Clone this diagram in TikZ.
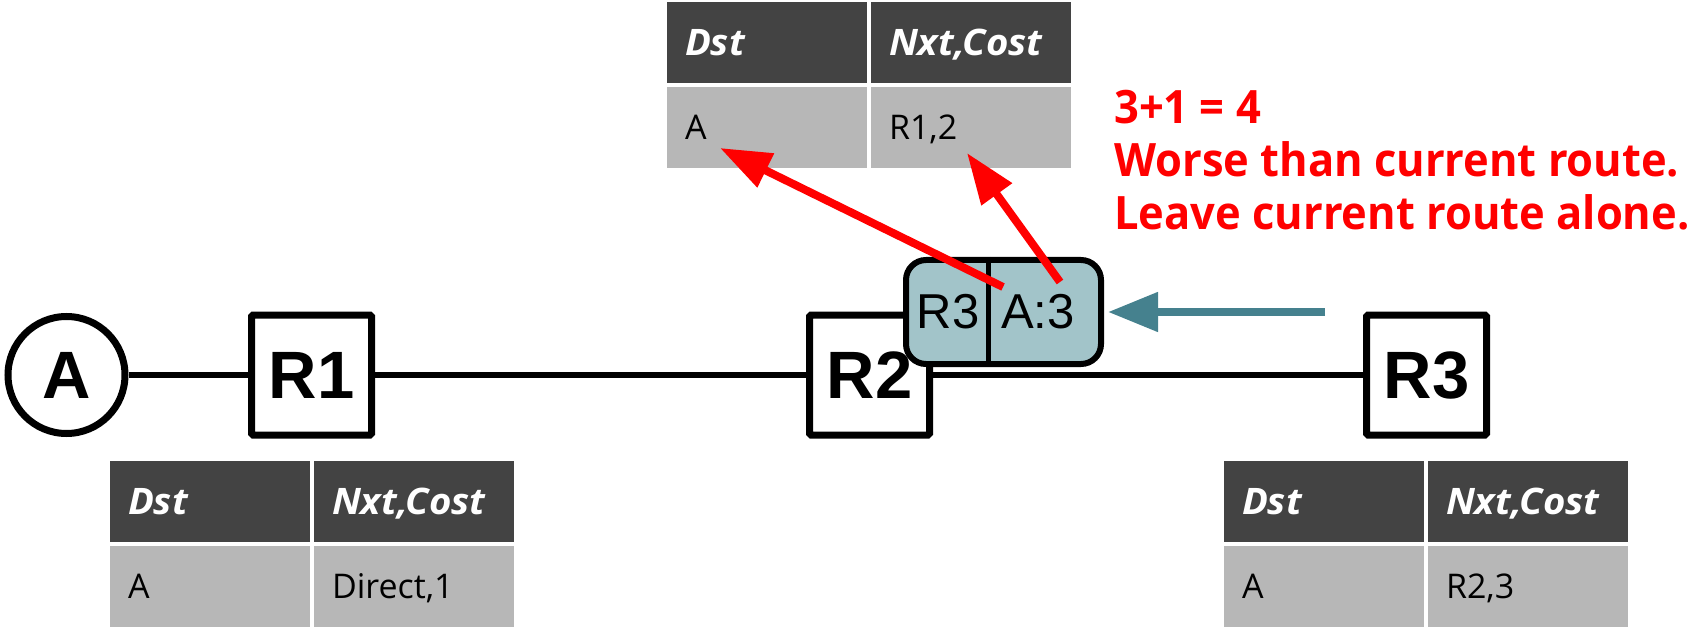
\documentclass[tikz,border=0pt]{standalone}
\usepackage{fontspec}
\setmainfont{Open Sans}
\newfontfamily\lsans{Liberation Sans}
\newfontfamily\hdrfont{Open Sans}[FakeStretch=1.05]
\newfontfamily\notefont{Open Sans}[FakeStretch=0.945]
\usetikzlibrary{arrows.meta}
\definecolor{hdrgray}{HTML}{434343}
\definecolor{bodygray}{HTML}{B7B7B7}
\definecolor{pktfill}{HTML}{A2C4C9}
\definecolor{pktarrow}{HTML}{45818E}
\definecolor{redc}{HTML}{FF0000}
\tikzset{
  router/.style={draw=black, line width=7pt, fill=white, minimum width=120pt,
    minimum height=120pt, inner sep=0pt, rounded corners=1.5pt,
    font=\lsans\bfseries\fontsize{67}{67}\selectfont},
  host/.style={circle, draw=black, line width=7pt, fill=white, minimum size=117pt,
    inner sep=0pt, font=\lsans\bfseries\fontsize{67}{67}\selectfont},
  link/.style={line width=6pt},
  cell/.style={anchor=north west, minimum height=81pt, text width=164pt,
    inner xsep=18pt, inner ysep=0pt, align=left, outer sep=0pt},
  hdrcell/.style={cell, fill=hdrgray, text=white, text height=25.5pt, text depth=0pt,
    font=\hdrfont\bfseries\itshape\fontsize{36.5}{36.5}\selectfont},
  bodycell/.style={cell, fill=bodygray, text=black, text height=23.5pt, text depth=0pt,
    font=\fontsize{34}{34}\selectfont},
  packet/.style={draw=black, line width=6pt, fill=pktfill, rounded corners=20pt,
    minimum width=195pt, minimum height=104pt, inner sep=0pt},
  pkttext/.style={inner sep=0pt, font=\lsans\fontsize{49}{49}\selectfont},
  redarrow/.style={draw=redc, line width=8pt, -{Triangle[length=51pt,width=36pt]}},
  tealarrow/.style={draw=pktarrow, line width=8pt, -{Triangle[length=50pt,width=38pt]}},
  note/.style={anchor=north west, inner sep=0pt, align=left, text=redc,
    font=\notefont\bfseries\fontsize{46}{53}\selectfont}
}
\begin{document}
\begin{tikzpicture}[x=1pt,y=-1pt]
\useasboundingbox (0,0) rectangle (1694,628);

% network
\node[host] (A) at (66.5,375) {A};
\node[router] (R1) at (311.5,375) {R1};
\node[router] (R2) at (869.5,375) {R2};
\node[router] (R3) at (1426.5,375) {R3};
\draw[link] (A) -- (R1);
\draw[link] (R1) -- (R2);
\draw[link] (R2) -- (R3);

% tables
\node[hdrcell] (t1h1) at (110,461) {Dst};
\node[hdrcell] (t1h2) at (314,461) {Nxt,Cost};
\node[bodycell] (t1b1) at (110,546) {A};
\node[bodycell] (t1b2) at (314,546) {Direct,1};

\node[hdrcell] (t2h1) at (667,2) {Dst};
\node[hdrcell] (t2h2) at (871,2) {Nxt,Cost};
\node[bodycell] (t2b1) at (667,87) {A};
\node[bodycell] (t2b2) at (871,87) {R1,2};

\node[hdrcell] (t3h1) at (1224,461) {Dst};
\node[hdrcell] (t3h2) at (1428,461) {Nxt,Cost};
\node[bodycell] (t3b1) at (1224,546) {A};
\node[bodycell] (t3b2) at (1428,546) {R2,3};

% packet
\node[packet] (pkt) at (1003.5,312) {};
\coordinate (div) at (988,312);
\draw[line width=5pt] (div |- pkt.north) -- (div |- pkt.south);
\node[pkttext] (pktR3) at (948,312) {R3};
\node[pkttext] (pktA3) at (1038,312) {A:3};

% teal arrow
\coordinate (pktsrc) at (1325,312);
\draw[tealarrow, shorten >=4pt] (pktsrc) -- (pkt.east);

% red arrows
\coordinate (srcA) at (1003,287);
\coordinate (tipA) at (720,148);
\coordinate (srcB) at (1060,282);
\coordinate (tipB) at (967,153);
\draw[redarrow] (srcA) -- (tipA);
\draw[redarrow] (srcB) -- (tipB);

% note
\node[note] (msg) at (1114,90) {3+1 = 4\\Worse than current route.\\Leave current route alone.};
\end{tikzpicture}
\end{document}
